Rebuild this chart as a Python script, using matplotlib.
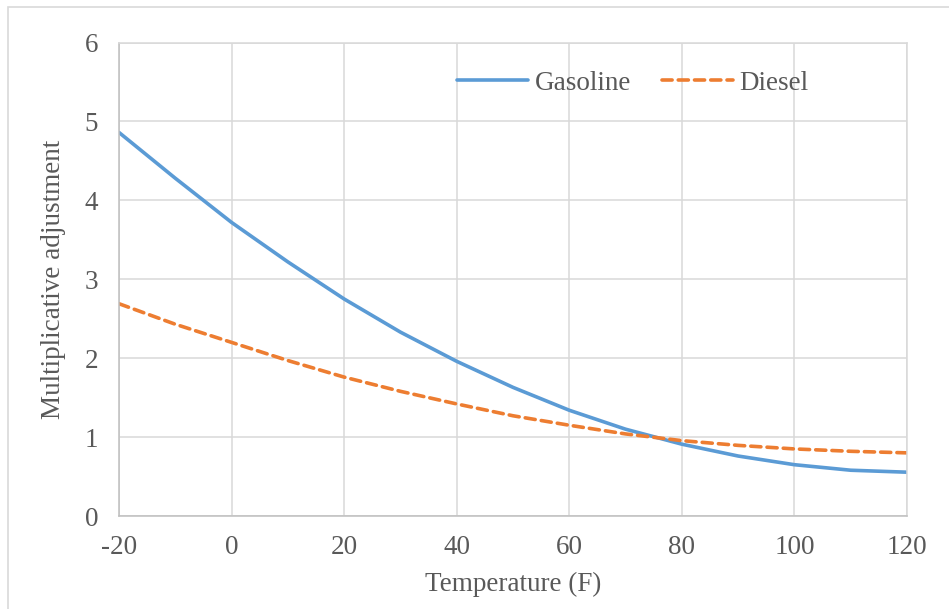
import matplotlib.pyplot as plt
from matplotlib.patches import Rectangle

# Data
temperature = [-20, -10, 0, 10, 20, 30, 40, 50, 60, 70, 80, 90, 100, 110, 120]
gasoline = [4.86, 4.28, 3.72, 3.22, 2.75, 2.33, 1.96, 1.63, 1.34, 1.10, 0.91, 0.76, 0.65, 0.58, 0.555]
diesel = [2.69, 2.43, 2.20, 1.97, 1.76, 1.58, 1.42, 1.27, 1.15, 1.04, 0.955, 0.895, 0.85, 0.82, 0.80]

x_ticks = [-20, 0, 20, 40, 60, 80, 100, 120]
y_ticks = [0, 1, 2, 3, 4, 5, 6]

TEXT = "#595959"
GRID = "#D9D9D9"
FS = 19.5

plt.rcParams["font.family"] = ["Liberation Serif", "DejaVu Serif"]
plt.rcParams["axes.unicode_minus"] = False

W, H = 949, 609
fig = plt.figure(figsize=(W / 100, H / 100), dpi=100)

# outer chart border (only top and left edges visible)
fig.patches.append(Rectangle((8 / W, -0.1), 1.2, 1 - 7 / H + 0.1, transform=fig.transFigure,
                             fill=False, edgecolor="#D9D9D9", linewidth=1.2))

ax = fig.add_axes([119 / W, 1 - 516 / H, (907 - 119) / W, (516 - 42.5) / H])

ax.plot(temperature, gasoline, color="#5B9BD5", linewidth=2.6, label="Gasoline",
        solid_capstyle="round")
ax.plot(temperature, diesel, color="#ED7D31", linewidth=2.6, label="Diesel",
        linestyle=(0, (2.8, 1.7)), dash_capstyle="round")

ax.set_xlim(-20, 120)
ax.set_ylim(0, 6)
ax.set_xticks(x_ticks)
ax.set_yticks(y_ticks)
ax.grid(True, color=GRID, linewidth=1.1)
ax.set_axisbelow(True)

for side in ["top", "right"]:
    ax.spines[side].set_color(GRID)
    ax.spines[side].set_linewidth(1.1)
for side in ["left", "bottom"]:
    ax.spines[side].set_color("#BFBFBF")
    ax.spines[side].set_linewidth(1.1)

ax.tick_params(length=0, labelsize=FS, labelcolor=TEXT)
ax.tick_params(axis="x", pad=14)
ax.tick_params(axis="y", pad=15)

ax.set_xlabel("Temperature (F)", fontsize=FS, color=TEXT, labelpad=8)
ax.set_ylabel("Multiplicative adjustment", fontsize=FS, color=TEXT, labelpad=13)

leg = ax.legend(loc="center", bbox_to_anchor=((633 - 119) / (907 - 119), 1 - (83 - 42.5) / (516 - 42.5)),
                ncol=2, frameon=False, fontsize=FS, handlelength=2.6, handletextpad=0.25,
                columnspacing=1.15)
for t in leg.get_texts():
    t.set_color(TEXT)

fig.savefig("out.png", dpi=100)
